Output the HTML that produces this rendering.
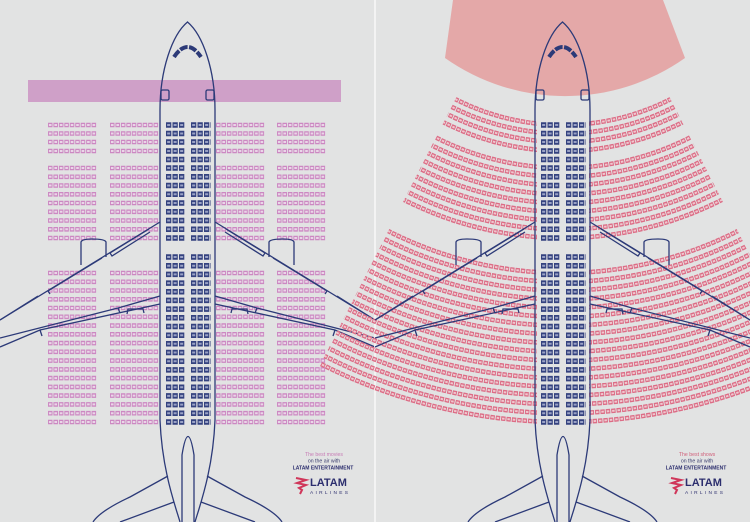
<!DOCTYPE html>
<html><head><meta charset="utf-8"><style>
html,body{margin:0;padding:0;background:#e2e3e3;}
svg{display:block;font-family:"Liberation Sans",sans-serif;}
</style></head><body>
<svg width="750" height="522" viewBox="0 0 750 522" xmlns="http://www.w3.org/2000/svg">
<defs>
<g id="pr" fill="none">
<path d="M48 0H97M110 0H159M216 0H265M277 0H326" stroke="#cc88c2" stroke-width="4.6" stroke-dasharray="4.5 0.95"/>
<path d="M48 0H97M110 0H159M216 0H265M277 0H326" stroke="#ead6e8" stroke-width="2" stroke-dasharray="2.6 2.85" stroke-dashoffset="-0.95"/>
</g>
<g id="br" fill="none">
<path d="M166 0H185M191 0H211" stroke="#34427f" stroke-width="5.5" stroke-dasharray="5.3 1.2"/>
<path d="M166 0H185M191 0H211" stroke="#9aa2c6" stroke-width="2" stroke-dasharray="3 3.5" stroke-dashoffset="-1.15"/>
</g>
<clipPath id="cl"><polygon points="537,-61 236,530 537,530"/><polygon points="589,-61 890,530 589,530"/></clipPath>
<g id="plane" fill="none" stroke="#2c3a78" stroke-width="1.3">
  <path d="M160,420 L160,110 C160,70 172,35 187.5,22 C203,35 215,70 215,110 L215,420"/>
  <path d="M160,420 C162,470 175,505 180,522"/>
  <path d="M215,420 C213,470 200,505 195,522"/>
  <path d="M182,522 L182,455 Q188,418 194,455 L194,522"/>
  <path d="M174,57 Q187.5,37 201,57" stroke-width="4" stroke-dasharray="8 1.5"/>
  <rect x="161" y="90" width="8" height="10" rx="1.5"/>
  <rect x="206" y="90" width="8" height="10" rx="1.5"/>
  <path d="M160,222 L0,320"/>
  <path d="M149,229 L110,253 L112,256 L150,232"/>
  <path d="M81,265 L81,242 Q82,239 92,239 Q105,239 106,242 L106,257"/>
  <path d="M102,258 L48,291 L50,294"/>
  <path d="M38,296 L0,320"/>
  <path d="M160,296 L118,308 L0,338"/>
  <path d="M160,304 L40,330 L0,347"/>
  <path d="M127,314 L128,309 L143,309 L144,313"/>
  <path d="M118,308 L120,313"/>
  <path d="M40,330 L42,336"/>
  <path d="M215,222 L375,320"/>
  <path d="M226,229 L265,253 L263,256 L225,232"/>
  <path d="M294,265 L294,242 Q293,239 283,239 Q270,239 269,242 L269,257"/>
  <path d="M273,258 L327,291 L325,294"/>
  <path d="M337,296 L375,320"/>
  <path d="M215,296 L257,308 L375,338"/>
  <path d="M215,304 L335,330 L375,347"/>
  <path d="M248,314 L247,309 L232,309 L231,313"/>
  <path d="M257,308 L255,313"/>
  <path d="M335,330 L333,336"/>
  <path d="M168,476 L130,497 Q100,511 93,522"/>
  <path d="M174,502 L120,522"/>
  <path d="M207,476 L245,497 Q275,511 282,522"/>
  <path d="M201,502 L255,522"/>
</g>
<g id="blue">
<use href="#br" y="125"/><use href="#br" y="133.5"/><use href="#br" y="142"/><use href="#br" y="151"/><use href="#br" y="159.5"/><use href="#br" y="168"/><use href="#br" y="176.8"/><use href="#br" y="185.5"/><use href="#br" y="194.3"/><use href="#br" y="203"/><use href="#br" y="211.8"/><use href="#br" y="220.5"/><use href="#br" y="229.3"/><use href="#br" y="238"/>
<use href="#br" y="257"/><use href="#br" y="265.7"/><use href="#br" y="274.4"/><use href="#br" y="283.1"/><use href="#br" y="291.7"/><use href="#br" y="300.4"/><use href="#br" y="309.1"/><use href="#br" y="317.8"/><use href="#br" y="326.5"/><use href="#br" y="335.2"/><use href="#br" y="343.8"/><use href="#br" y="352.5"/><use href="#br" y="361.2"/><use href="#br" y="369.9"/><use href="#br" y="378.6"/><use href="#br" y="387.3"/><use href="#br" y="395.9"/><use href="#br" y="404.6"/><use href="#br" y="413.3"/><use href="#br" y="422"/>
</g>
<g id="arcs">
<circle cx="563" cy="-112" r="237"/><circle cx="563" cy="-112" r="245.5"/><circle cx="563" cy="-112" r="254"/><circle cx="563" cy="-112" r="263"/>
<circle cx="563" cy="-112" r="280"/><circle cx="563" cy="-112" r="288.8"/><circle cx="563" cy="-112" r="297.5"/><circle cx="563" cy="-112" r="306.3"/><circle cx="563" cy="-112" r="315"/><circle cx="563" cy="-112" r="323.8"/><circle cx="563" cy="-112" r="332.5"/><circle cx="563" cy="-112" r="341.3"/><circle cx="563" cy="-112" r="350"/>
<circle cx="563" cy="-112" r="385"/><circle cx="563" cy="-112" r="393.8"/><circle cx="563" cy="-112" r="402.5"/><circle cx="563" cy="-112" r="411.3"/><circle cx="563" cy="-112" r="420"/><circle cx="563" cy="-112" r="428.8"/><circle cx="563" cy="-112" r="437.6"/><circle cx="563" cy="-112" r="446.3"/><circle cx="563" cy="-112" r="455.1"/><circle cx="563" cy="-112" r="463.8"/><circle cx="563" cy="-112" r="472.6"/><circle cx="563" cy="-112" r="481.4"/><circle cx="563" cy="-112" r="490.1"/><circle cx="563" cy="-112" r="498.9"/><circle cx="563" cy="-112" r="507.6"/><circle cx="563" cy="-112" r="516.4"/><circle cx="563" cy="-112" r="525.2"/><circle cx="563" cy="-112" r="534"/>
</g>
</defs>

<rect x="28" y="80" width="313" height="22" fill="#cfa0c8"/>
<g>
<use href="#pr" y="125"/><use href="#pr" y="133.5"/><use href="#pr" y="142"/><use href="#pr" y="151"/><use href="#pr" y="168"/><use href="#pr" y="176.8"/><use href="#pr" y="185.5"/><use href="#pr" y="194.3"/><use href="#pr" y="203"/><use href="#pr" y="211.8"/><use href="#pr" y="220.5"/><use href="#pr" y="229.3"/><use href="#pr" y="238"/>
<use href="#pr" y="273"/><use href="#pr" y="281.8"/><use href="#pr" y="290.5"/><use href="#pr" y="299.3"/><use href="#pr" y="308"/><use href="#pr" y="316.8"/><use href="#pr" y="325.6"/><use href="#pr" y="334.3"/><use href="#pr" y="343.1"/><use href="#pr" y="351.8"/><use href="#pr" y="360.6"/><use href="#pr" y="369.4"/><use href="#pr" y="378.1"/><use href="#pr" y="386.9"/><use href="#pr" y="395.6"/><use href="#pr" y="404.4"/><use href="#pr" y="413.2"/><use href="#pr" y="422"/>
</g>
<use href="#blue"/>
<use href="#plane"/>
<g text-anchor="middle" font-size="5.2">
<text x="324" y="456" fill="#c77bb5">The best movies</text>
<text x="324" y="462.5" fill="#3a3d6e">on the air with</text>
<text x="323" y="469.5" fill="#2c2e6e" font-weight="bold" font-size="5">LATAM ENTERTAINMENT</text>
</g>
<text x="310" y="486" font-size="11" font-weight="bold" fill="#2c2e6e">LATAM</text>
<text x="310" y="494" font-size="4.8" fill="#2c2e6e" letter-spacing="2.3">AIRLINES</text>
<path d="M296,478 L306,480 L297,483 L306,485 L299,488 L302,490 L300,494" fill="none" stroke="#d0365a" stroke-width="2"/>

<rect x="374" y="0" width="2" height="522" fill="#f3f3f3"/>

<path d="M445,58 A208,208 0 0,0 685,58 L663,0 L453,0 Z" fill="#e4a8a8"/>
<g clip-path="url(#cl)" fill="none">
<use href="#arcs" stroke="#dc6d86" stroke-width="4.6" stroke-dasharray="4.4 1"/>
<use href="#arcs" stroke="#f0c8cf" stroke-width="1.9" stroke-dasharray="2.5 2.9" stroke-dashoffset="-0.95"/>
</g>
<g transform="translate(375,0)">
<use href="#blue"/>
<use href="#plane"/>
<g text-anchor="middle" font-size="5.2">
<text x="322" y="456" fill="#d0607a">The best shows</text>
<text x="322" y="462.5" fill="#3a3d6e">on the air with</text>
<text x="321" y="469.5" fill="#2c2e6e" font-weight="bold" font-size="5">LATAM ENTERTAINMENT</text>
</g>
<text x="310" y="486" font-size="11" font-weight="bold" fill="#2c2e6e">LATAM</text>
<text x="310" y="494" font-size="4.8" fill="#2c2e6e" letter-spacing="2.3">AIRLINES</text>
<path d="M296,478 L306,480 L297,483 L306,485 L299,488 L302,490 L300,494" fill="none" stroke="#d0365a" stroke-width="2"/>
</g>
</svg>
</body></html>
